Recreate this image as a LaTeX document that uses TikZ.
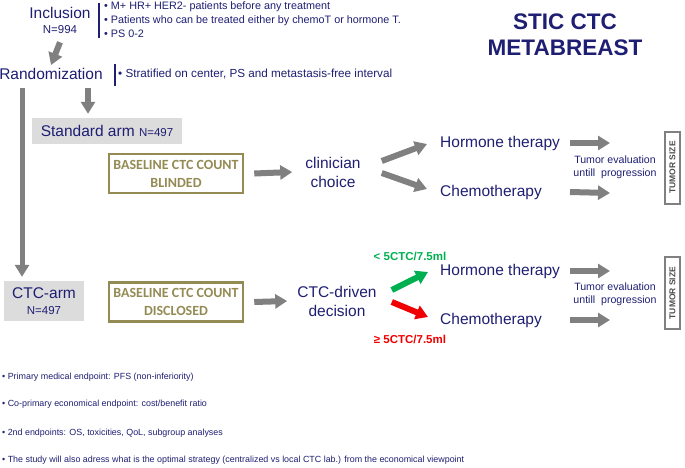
\documentclass[tikz,border=0pt]{standalone}
\usepackage{fontspec}
\setmainfont{Liberation Sans}
\newfontfamily\calib{Carlito}
\usetikzlibrary{arrows.meta}

\definecolor{navy}{RGB}{30,30,115}
\definecolor{olivebox}{RGB}{148,138,84}
\definecolor{arrowgray}{RGB}{128,128,128}
\definecolor{armgray}{RGB}{220,220,220}
\definecolor{ctcgreen}{RGB}{0,176,80}
\definecolor{ctcred}{RGB}{240,0,0}

\newcommand\fsz[2]{\fontsize{#1}{#2}\selectfont}

\begin{document}
\begin{tikzpicture}[x=1pt,y=-1pt,
  txt/.style={text=navy,inner sep=0pt,align=center},
  bullets/.style={text=navy,inner sep=0pt,align=left,anchor=west},
  armbox/.style={fill=armgray,text=navy,inner sep=0pt,align=center},
  ctcbox/.style={draw=olivebox,line width=2.5pt,text=olivebox,inner sep=0pt,align=center,
    minimum width=134pt,minimum height=39pt,font=\calib\bfseries\fsz{14}{18}},
  sizebox/.style={draw=arrowgray,line width=2pt,rotate=90,inner sep=0pt,
    minimum width=72pt,minimum height=15pt,text=black!70,font=\bfseries\fsz{8.5}{9}},
  bigarrow/.style={draw=arrowgray,line width=6pt,-{Triangle[length=12pt,width=14pt]}},
  bar/.style={draw=navy,line width=1.5pt}]
\useasboundingbox (0,0) rectangle (685,467);

% top: inclusion and randomization
\node[txt,font=\fsz{15.5}{18}] (incl) at (60,13) {Inclusion};
\node[txt,font=\fsz{11.5}{12}] (n994) at (60,30) {N=994};
\coordinate (inclbar1) at (99,3);
\coordinate (inclbar2) at (99,38);
\draw[bar] (inclbar1) -- (inclbar2);
\node[bullets,font=\fsz{10.8}{14}] (crit) at (104,20) {%
  \textbullet\ M+ HR+ HER2- patients before any treatment\\
  \textbullet\ Patients who can be treated either by chemoT or hormone T.\\
  \textbullet\ PS 0-2};

\node[txt,font=\fsz{15.5}{18}] (rando) at (51,74) {Randomization};
\coordinate (randbar1) at (115,64);
\coordinate (randbar2) at (115,86);
\draw[bar] (randbar1) -- (randbar2);
\node[bullets,font=\fsz{11.7}{13}] (strat) at (118,74)
  {\textbullet\ Stratified on center, PS and metastasis-free interval};

\node[txt,align=center,font=\bfseries\fsz{22.5}{26}] (title) at (565,35) {STIC CTC\\METABREAST};

% the two arms
\node[armbox,minimum width=150pt,minimum height=26pt,font=\fsz{15.5}{17}] (stdarm) at (107,131)
  {Standard arm {\fsz{11.5}{12}N=497}};
\node[armbox,minimum width=80pt,minimum height=40pt,font=\fsz{15.5}{17}] (ctcarm) at (44,301)
  {CTC-arm\\[-1pt]{\fsz{11.5}{12}N=497}};

\coordinate (lstart) at (22,88);
\coordinate (sstart) at (88,88);
\draw[bigarrow] (n994.south) ++(0,8) -- ([yshift=3pt]rando.north);
\draw[bigarrow] (sstart) -- ([yshift=4pt]sstart |- stdarm.north);
\draw[bigarrow,line width=5pt] (lstart) -- ([yshift=4pt]lstart |- ctcarm.north);

\node[ctcbox] (blind) at (176,173.5) {BASELINE CTC COUNT\\BLINDED};
\node[ctcbox] (disc) at (176,302) {BASELINE CTC COUNT\\DISCLOSED};

\node[txt,font=\fsz{15.5}{19}] (clin) at (333,172) {clinician\\choice};
\node[txt,font=\fsz{15.5}{19}] (ctcd) at (337,301) {CTC-driven\\decision};

\draw[bigarrow] ([xshift=10pt]blind.east) -- ([xshift=-13pt]clin.west);
\draw[bigarrow] ([xshift=10pt]disc.east) -- ([xshift=-10pt]ctcd.west);

% therapies
\node[txt,anchor=west,font=\fsz{15.5}{17}] (ht1) at (440,143) {Hormone therapy};
\node[txt,anchor=west,font=\fsz{15.5}{17}] (ch1) at (440,192) {Chemotherapy};
\node[txt,anchor=west,font=\fsz{15.5}{17}] (ht2) at (440,271) {Hormone therapy};
\node[txt,anchor=west,font=\fsz{15.5}{17}] (ch2) at (440,320) {Chemotherapy};

\draw[bigarrow] ([xshift=21pt,yshift=11pt]clin.east) -- ([xshift=-13pt,yshift=-1pt]ht1.west);
\draw[bigarrow] ([xshift=21pt,yshift=-1pt]clin.east) -- ([xshift=-13pt,yshift=3pt]ch1.west);
\draw[bigarrow,draw=ctcgreen] ([xshift=15pt,yshift=11pt]ctcd.east) -- ([xshift=-12pt,yshift=-1pt]ht2.west);
\draw[bigarrow,draw=ctcred] ([xshift=15pt,yshift=-1pt]ctcd.east) -- ([xshift=-12pt,yshift=3pt]ch2.west);

\node[text=ctcgreen,inner sep=0pt,font=\bfseries\fsz{11.5}{12}] (lt5) at (410,256) {< 5CTC/7.5ml};
\node[text=ctcred,inner sep=0pt,font=\bfseries\fsz{11.5}{12}] (ge5) at (410,339) {≥ 5CTC/7.5ml};

% tumor evaluation
\coordinate (e1) at (610,143);
\coordinate (e2) at (610,193);
\coordinate (e3) at (610,271);
\coordinate (e4) at (610,320);
\draw[bigarrow] (ht1.east -| 570,0) -- (e1);
\draw[bigarrow] (ch1.east -| 570,0) -- (e2);
\draw[bigarrow] (ht2.east -| 570,0) -- (e3);
\draw[bigarrow] (ch2.east -| 570,0) -- (e4);

\node[txt,font=\fsz{10.6}{12.6}] (eval1) at (615,167) {Tumor evaluation\\untill~~progression};
\node[txt,font=\fsz{10.6}{12.6}] (eval2) at (615,294) {Tumor evaluation\\untill~~progression};
\node[sizebox] (size1) at (672.5,167.5) {TUMOR SIZE};
\node[sizebox] (size2) at (672.5,293) {TUMOR SIZE};

% endpoints
\node[bullets,font=\fsz{8.9}{10}] (ep1) at (2,377) {\textbullet\ Primary medical endpoint: PFS (non-inferiority)};
\node[bullets,font=\fsz{8.9}{10}] (ep2) at (2,404) {\textbullet\ Co-primary economical endpoint: cost/benefit ratio};
\node[bullets,font=\fsz{8.9}{10}] (ep3) at (2,433) {\textbullet\ 2nd endpoints: OS, toxicities, QoL, subgroup analyses};
\node[bullets,font=\fsz{8.9}{10}] (ep4) at (2,460) {\textbullet\ The study will also adress what is the optimal strategy (centralized vs local CTC lab.) from the economical viewpoint};
\end{tikzpicture}
\end{document}
